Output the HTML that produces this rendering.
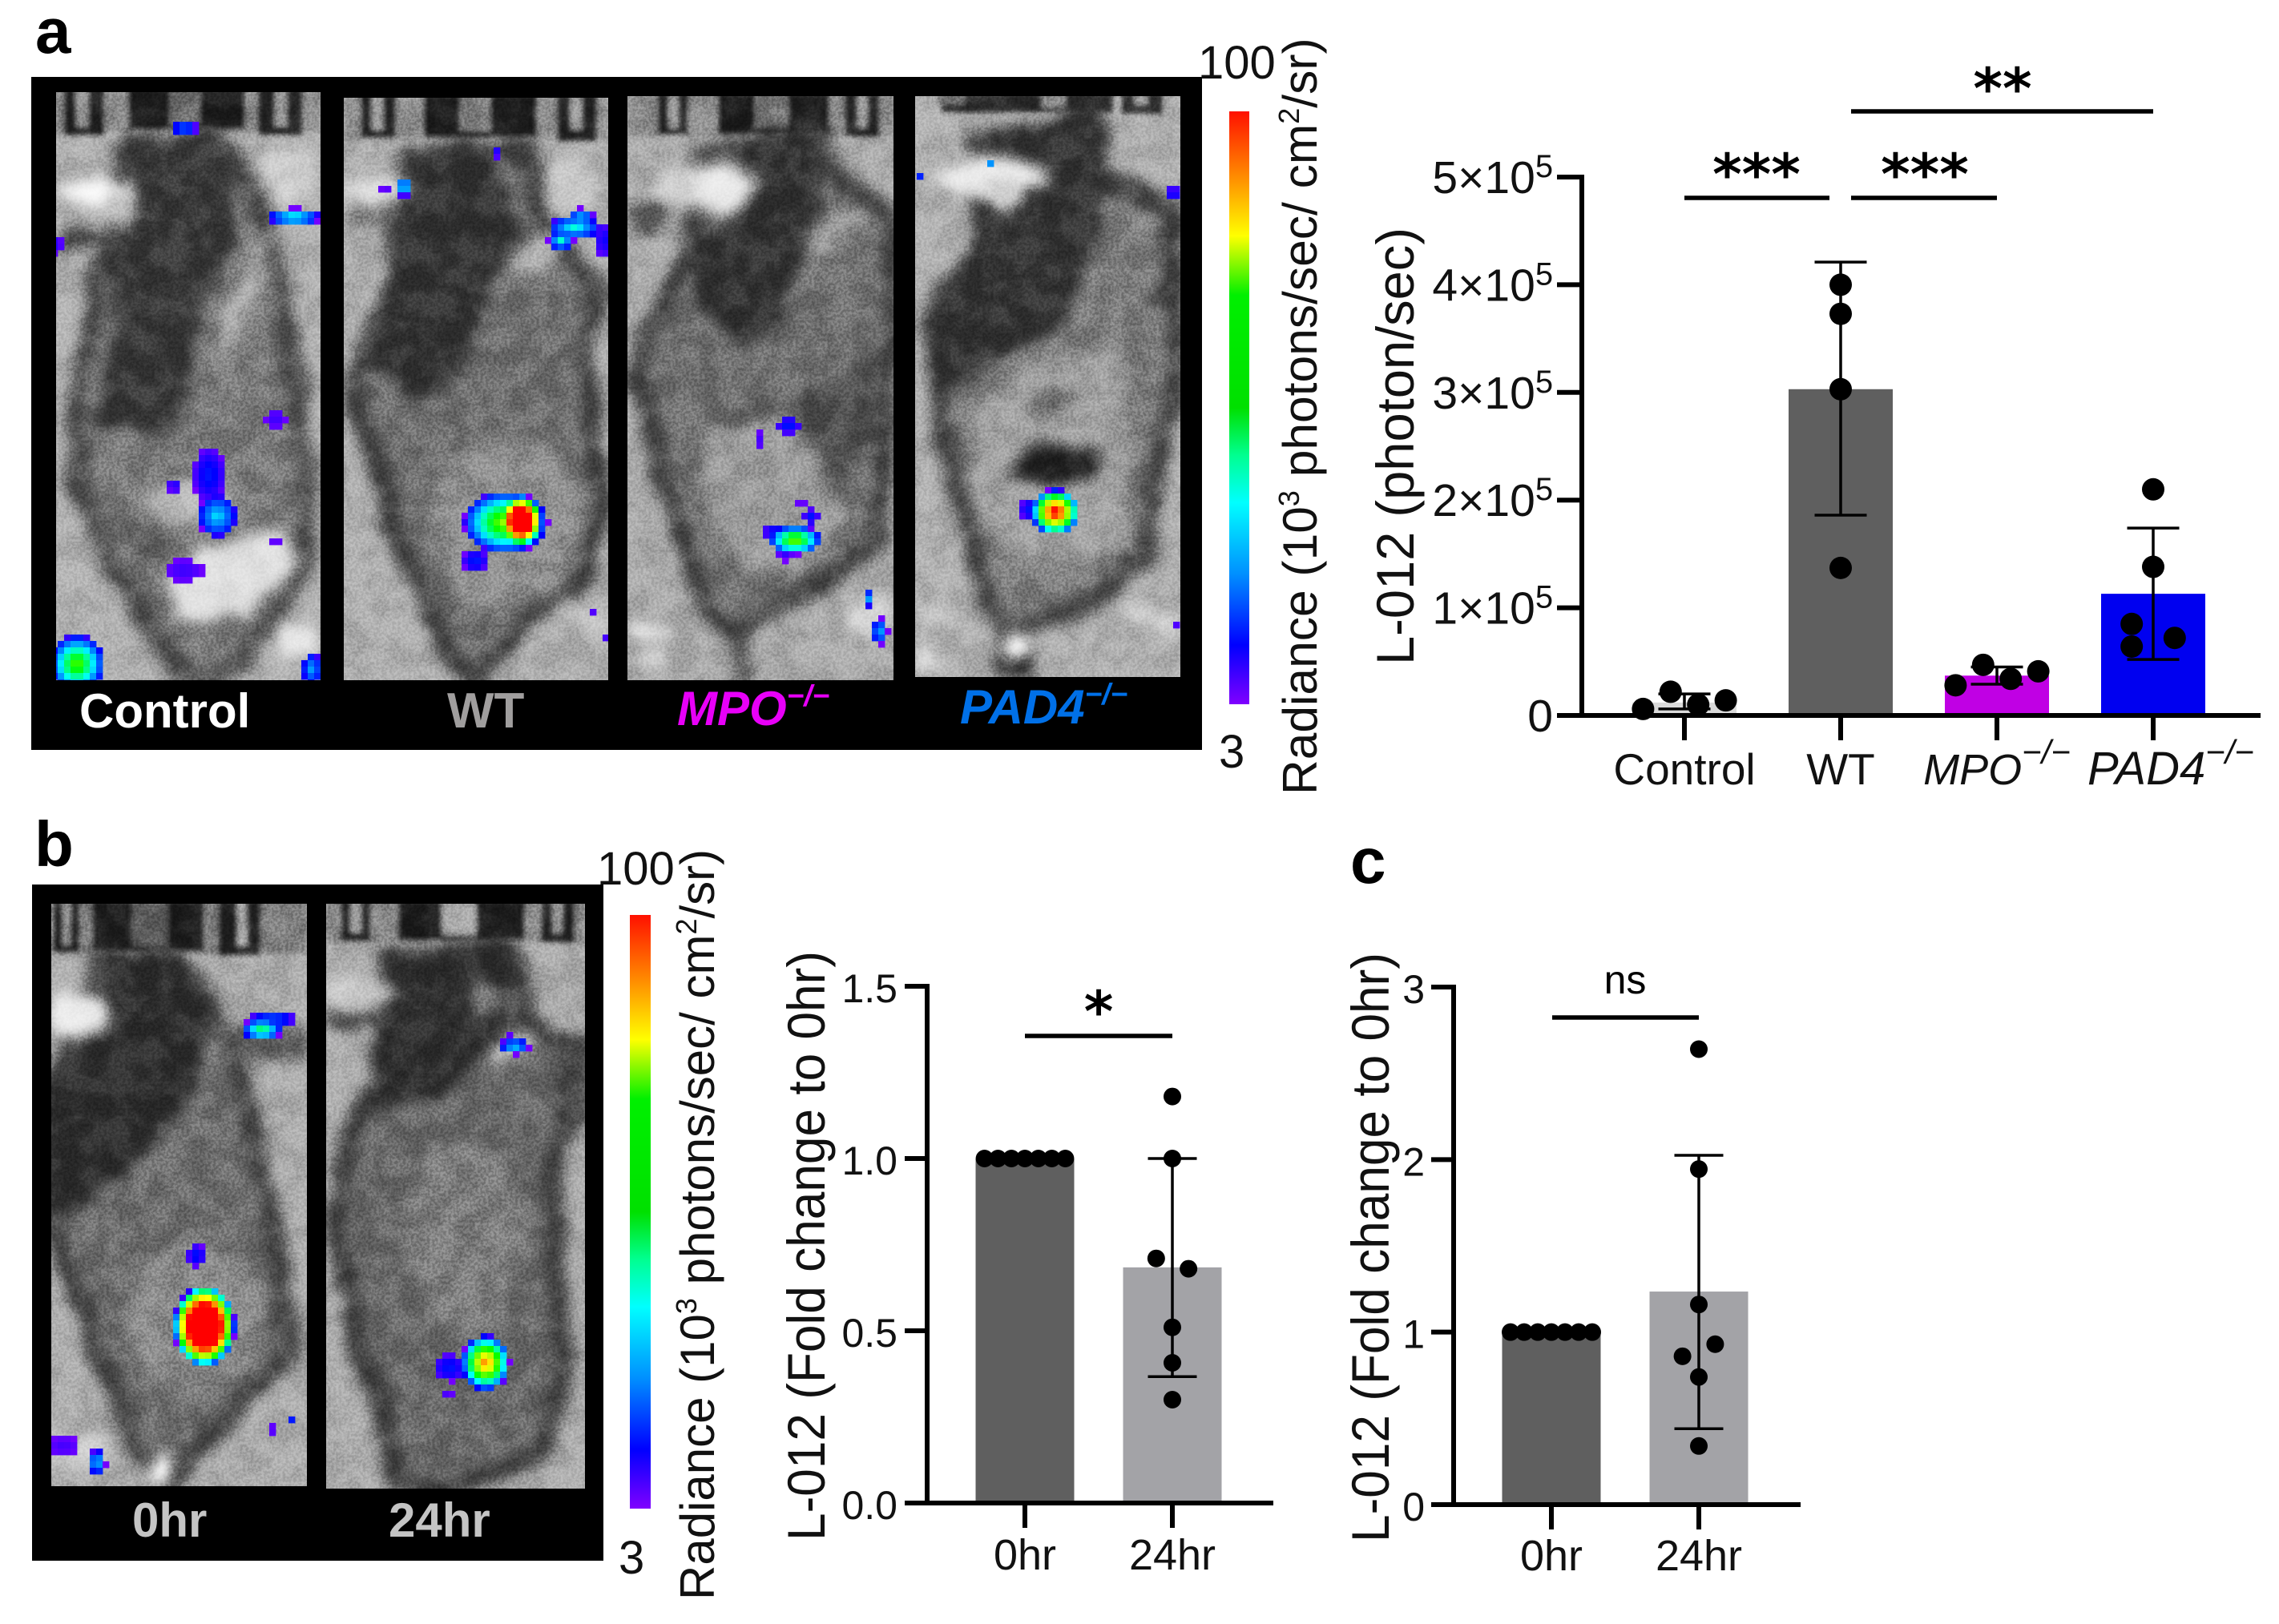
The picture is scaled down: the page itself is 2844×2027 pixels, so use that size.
<!DOCTYPE html>
<html lang="en">
<head>
<meta charset="utf-8">
<title>L-012 imaging figure</title>
<style>
html,body{margin:0;padding:0;background:#fff;}
body{width:2844px;height:2022px;overflow:hidden;}
svg text{font-family:"Liberation Sans",Arial,sans-serif;}
.mottle{mix-blend-mode:soft-light;opacity:.2;}
.grain{mix-blend-mode:overlay;opacity:.14;}
</style>
</head>
<body>
<svg id="fig" xmlns="http://www.w3.org/2000/svg" width="2844" height="2022" viewBox="0 0 2844 2022">
<defs>
<filter id="b3" x="-20%" y="-20%" width="140%" height="140%"><feGaussianBlur stdDeviation="3"/></filter>
<filter id="b6" x="-20%" y="-20%" width="140%" height="140%" color-interpolation-filters="sRGB"><feTurbulence type="fractalNoise" baseFrequency="0.022" numOctaves="3" seed="7" result="t"/><feDisplacementMap in="SourceGraphic" in2="t" scale="24" xChannelSelector="R" yChannelSelector="G"/><feGaussianBlur stdDeviation="8"/></filter>
<filter id="noise" x="0" y="0" width="100%" height="100%" color-interpolation-filters="sRGB"><feTurbulence type="fractalNoise" baseFrequency="0.3" numOctaves="2" seed="4"/><feColorMatrix values="3.4 0 0 0 -1.2  3.4 0 0 0 -1.2  3.4 0 0 0 -1.2  0 0 0 0 1"/></filter>
<filter id="mottle" x="0" y="0" width="100%" height="100%" color-interpolation-filters="sRGB"><feTurbulence type="fractalNoise" baseFrequency="0.03" numOctaves="3" seed="11"/><feColorMatrix values="3.4 0 0 0 -1.2  3.4 0 0 0 -1.2  3.4 0 0 0 -1.2  0 0 0 0 1"/></filter>
<linearGradient id="jet" x1="0" y1="0" x2="0" y2="1">
<stop offset="0" stop-color="#ff1000"/><stop offset=".1" stop-color="#ff8000"/><stop offset=".21" stop-color="#ffff00"/><stop offset=".31" stop-color="#00f000"/><stop offset=".5" stop-color="#00e000"/><stop offset=".58" stop-color="#00ff90"/><stop offset=".66" stop-color="#00ffff"/><stop offset=".78" stop-color="#0090ff"/><stop offset=".9" stop-color="#0000ff"/><stop offset="1" stop-color="#8000ff"/>
</linearGradient>
</defs>

<text x="44" y="66" font-size="80" font-weight="700">a</text>
<text x="43" y="1081" font-size="80" font-weight="700">b</text>
<text x="1685" y="1102" font-size="80" font-weight="700">c</text>

<rect x="39" y="96" width="1461" height="840" fill="#000"/>
<rect x="40" y="1104" width="713" height="844" fill="#000"/>

<!-- Panel a : Control -->
<svg x="70" y="115" width="330" height="734" viewBox="70 115 330 734">
<rect x="70" y="115" width="330" height="734" fill="#b0b0b0"/>
<g filter="url(#b3)">
<rect x="70" y="115" width="330" height="50" fill="#8a8a8a"/><rect x="160" y="110" width="146" height="52" fill="#1c1c1c"/><rect x="212" y="110" width="38" height="45" fill="#6e6e6e"/>
<rect x="80" y="110" width="50" height="58" fill="#222"/><rect x="95" y="110" width="15" height="48" fill="#999"/>
<rect x="322" y="110" width="56" height="58" fill="#222"/><rect x="343" y="110" width="15" height="48" fill="#999"/>
</g>
<g filter="url(#b6)">
<ellipse cx="357" cy="222" rx="42" ry="36" fill="#d0d0d0"/>
<path d="M166 175L268 172L319 242L344 319L383 574L383 714L300 823L255 860L198 803L147 720L96 606L96 510L121 350L159 255Z" fill="#7a7a7a" stroke="#4b4b4b" stroke-width="24" stroke-linejoin="round"/>
<path d="M147 191L268 178L287 287L242 414L217 529L128 529L153 383L134 332Z" fill="#383838" stroke="#383838" stroke-width="14" stroke-linejoin="round"/>
<path d="M179 620L255 587L300 650L217 655Z" fill="#bcbcbc"/>
<path d="M217 730L255 690L345 663L363 700L306 765L225 770Z" fill="#e0e0e0" stroke="#e0e0e0" stroke-width="10" stroke-linejoin="round"/>
<path d="M150 650L220 660L190 720Z" fill="#606060"/>
<path d="M300 330L350 280L320 370L270 460L280 380Z" fill="#aeaeae"/>
<ellipse cx="125" cy="240" rx="50" ry="16" fill="#fafafa"/><ellipse cx="150" cy="262" rx="22" ry="28" fill="#c4c4c4"/>
<ellipse cx="100" cy="300" rx="30" ry="14" fill="#444"/>
<rect x="350" y="780" width="50" height="40" fill="#e8e8e8"/>
</g>
<rect class="mottle" x="70" y="115" width="330" height="734" filter="url(#mottle)"/>
<rect class="grain" x="70" y="115" width="330" height="734" filter="url(#noise)"/>
<g class="heat" data-spots="230,160,16,10,.22;367,271,32,11,.42;261,593,20,34,.12;271,644,24,26,.36;96,829,34,36,.62;389,835,12,20,.3;344,523,13,12,.05;230,712,24,14,.05;344,676,6,6,.03;217,606,8,9,.08;71,305,6,14,.1"></g>
</svg>

<!-- Panel a : WT -->
<svg x="429" y="122" width="330" height="727" viewBox="429 122 330 727">
<rect x="429" y="122" width="330" height="727" fill="#aeaeae"/>
<g filter="url(#b3)">
<rect x="429" y="122" width="330" height="52" fill="#8e8e8e"/><rect x="529" y="118" width="141" height="54" fill="#1a1a1a"/><rect x="574" y="118" width="38" height="46" fill="#808080"/>
<rect x="450" y="118" width="44" height="54" fill="#222"/><rect x="464" y="118" width="14" height="44" fill="#a0a0a0"/>
<rect x="695" y="118" width="50" height="58" fill="#222"/><rect x="712" y="118" width="14" height="44" fill="#a0a0a0"/>
</g>
<g filter="url(#b6)">
<ellipse cx="712" cy="230" rx="40" ry="30" fill="#c8c8c8"/>
<path d="M510 191L657 185L676 281L746 357L727 446L753 638L721 733L651 778L593 860L561 823L497 670L446 510L446 459L491 344L497 255Z" fill="#6f6f6f" stroke="#404040" stroke-width="24" stroke-linejoin="round"/>
<path d="M529 191L612 191L638 287L606 357L555 485L510 491L472 446L485 357L510 287Z" fill="#333" stroke="#333" stroke-width="14" stroke-linejoin="round"/>
<ellipse cx="630" cy="650" rx="95" ry="110" fill="#8e8e8e"/>
<ellipse cx="670" cy="320" rx="35" ry="18" fill="#b6b6b6" transform="rotate(-25 670 320)"/>
<ellipse cx="470" cy="236" rx="44" ry="14" fill="#e0e0e0"/><ellipse cx="470" cy="272" rx="40" ry="10" fill="#525252"/>
<path d="M690 760L759 800L759 780L710 740Z" fill="#cacaca"/>
</g>
<rect class="mottle" x="429" y="122" width="330" height="727" filter="url(#mottle)"/>
<rect class="grain" x="429" y="122" width="330" height="727" filter="url(#noise)"/>
<g class="heat" data-spots="631,652,52,38,.68;650,650,27,32,1.5;593,700,16,14,.13;717,284,32,14,.4;700,300,16,12,.4;725,272,16,12,.35;504,233,12,12,.4;481,235,6,6,.03;753,300,9,22,.1;619,191,6,6,.1;740,765,6,6,.03;756,798,5,5,.05"></g>
</svg>

<!-- Panel a : MPO -->
<svg x="783" y="120" width="332" height="729" viewBox="783 120 332 729">
<rect x="783" y="120" width="332" height="729" fill="#aaaaaa"/>
<g filter="url(#b3)">
<rect x="783" y="120" width="332" height="50" fill="#8e8e8e"/><rect x="896" y="116" width="139" height="52" fill="#1c1c1c"/><rect x="942" y="116" width="42" height="44" fill="#777"/>
<rect x="821" y="116" width="38" height="52" fill="#252525"/><rect x="834" y="116" width="12" height="44" fill="#9a9a9a"/>
<rect x="1054" y="116" width="44" height="54" fill="#252525"/><rect x="1070" y="116" width="12" height="44" fill="#9a9a9a"/>
</g>
<g filter="url(#b6)">
<path d="M877 190L1026 169L1031 206L1114 275L1112 444L1096 672L1040 719L979 751L910 790L882 762L821 576L798 470L812 407L863 312Z" fill="#707070" stroke="#424242" stroke-width="24" stroke-linejoin="round"/>
<path d="M928 174L1021 169L1012 259L979 365L970 407L924 428L877 375L863 322L924 259Z" fill="#323232" stroke="#323232" stroke-width="14" stroke-linejoin="round"/>
<path d="M877 539L979 518L1059 651L1003 719L924 709L872 608Z" fill="#9c9c9c"/>
<path d="M880 525L1000 490L1105 440L1100 540L1050 600L980 510Z" fill="#4e4e4e"/>
<path d="M1090 260L1000 350L1020 290L1060 250Z" fill="#a0a0a0"/>
<ellipse cx="880" cy="232" rx="66" ry="26" fill="#d6d6d6" transform="rotate(-8 880 232)"/>
<ellipse cx="900" cy="240" rx="34" ry="30" fill="#ececec"/>
<ellipse cx="810" cy="270" rx="26" ry="18" fill="#444"/>
<rect x="790" y="785" width="52" height="14" fill="#ececec"/><rect x="795" y="815" width="36" height="12" fill="#e2e2e2"/>
<path d="M1045 755L1110 745L1112 790L1060 785Z" fill="#d6d6d6"/>
<rect x="912" y="800" width="26" height="49" fill="#555"/>
</g>
<rect class="mottle" x="783" y="120" width="332" height="729" filter="url(#mottle)"/>
<rect class="grain" x="783" y="120" width="332" height="729" filter="url(#noise)"/>
<g class="heat" data-spots="992,674,32,18,.66;970,664,20,10,.12;1012,645,10,10,.12;984,531,15,11,.13;947,550,6,12,.04;1000,628,5,5,.03;1084,747,7,10,.3;1098,788,10,16,.32;980,692,10,8,.05"></g>
</svg>

<!-- Panel a : PAD4 -->
<svg x="1142" y="120" width="331" height="725" viewBox="1142 120 331 725">
<rect x="1142" y="120" width="331" height="725" fill="#b0b0b0"/>
<g filter="url(#b3)">
<rect x="1175" y="116" width="214" height="24" fill="#2a2a2a"/><rect x="1300" y="116" width="30" height="18" fill="#8a8a8a"/>
<rect x="1400" y="116" width="50" height="26" fill="#333"/><rect x="1416" y="116" width="16" height="14" fill="#aaa"/>
<rect x="1170" y="116" width="34" height="14" fill="#666"/>
</g>
<g filter="url(#b6)">
<path d="M1212 179L1366 142L1375 222L1464 259L1468 460L1422 698L1366 751L1282 783L1250 790L1203 656L1166 481L1166 396L1235 280Z" fill="#7c7c7c" stroke="#444" stroke-width="24" stroke-linejoin="round"/>
<path d="M1236 169L1366 142L1375 243L1347 338L1329 396L1212 460L1166 481L1161 412L1212 328L1254 264Z" fill="#333" stroke="#333" stroke-width="14" stroke-linejoin="round"/>
<path d="M1226 497L1282 460L1400 430L1410 690L1260 700L1205 610Z" fill="#a2a2a2"/>
<ellipse cx="1315" cy="582" rx="56" ry="26" fill="#1e1e1e"/>
<path d="M1310 480L1350 500L1300 530L1270 510Z" fill="#666"/>
<path d="M1450 300L1473 280L1473 380L1440 380Z" fill="#363636"/>
<path d="M1420 270L1460 240L1400 290Z" fill="#e2e2e2"/>
<ellipse cx="1240" cy="220" rx="70" ry="22" fill="#ececec"/><ellipse cx="1252" cy="240" rx="26" ry="20" fill="#d6d6d6"/>
<circle cx="1228" cy="268" r="20" fill="#2a2a2a"/>
<rect x="1245" y="806" width="44" height="40" fill="#2c2c2c"/>
<circle cx="1268" cy="806" r="18" fill="#fff"/>
<path d="M1142 810L1180 835L1150 845L1142 845Z" fill="#eaeaea"/>
<path d="M1145 760L1190 775L1145 785Z" fill="#dedede"/>
<path d="M1390 745L1460 770L1470 790L1385 760Z" fill="#d6d6d6"/>
</g>
<rect class="mottle" x="1142" y="120" width="331" height="725" filter="url(#mottle)"/>
<rect class="grain" x="1142" y="120" width="331" height="725" filter="url(#noise)"/>
<g class="heat" data-spots="1317,639,30,28,1.05;1286,636,14,14,.12;1464,242,6,12,.14;1238,203,5,5,.4;1145,221,4,4,.35;1471,782,4,4,.12"></g>
</svg>

<!-- Panel a labels -->
<text x="99" y="908" font-size="60" font-weight="700" fill="#fff">Control</text>
<text x="558" y="908" font-size="62" font-weight="700" fill="#a09e9e">WT</text>
<text x="845" y="905" font-size="60" font-weight="700" font-style="italic" fill="#e800f8">MPO<tspan font-size="37" dy="-24">−/−</tspan></text>
<text x="1198" y="903" font-size="60" font-weight="700" font-style="italic" fill="#0070e8">PAD4<tspan font-size="37" dy="-24">−/−</tspan></text>

<!-- Panel a colour scale -->
<rect x="1534" y="139" width="25" height="740" fill="url(#jet)"/>
<text x="1495" y="98" font-size="58" fill="#111">100</text>
<text x="1521" y="958" font-size="58" fill="#111">3</text>
<text transform="translate(1643 992) rotate(-90)" font-size="60.5" fill="#111">Radiance (10<tspan font-size="36" dy="-22">3</tspan><tspan dy="22"> photons/sec/ cm</tspan><tspan font-size="36" dy="-22">2</tspan><tspan dy="22">/sr)</tspan></text>

<!-- Panel b images -->
<svg x="64" y="1128" width="319" height="727" viewBox="64 1128 319 727">
<rect x="64" y="1128" width="319" height="727" fill="#acacac"/>
<g filter="url(#b3)">
<rect x="64" y="1124" width="319" height="66" fill="#7d7d7d"/><rect x="115" y="1124" width="140" height="64" fill="#1a1a1a"/><rect x="165" y="1124" width="45" height="58" fill="#5e5e5e"/>
<rect x="67" y="1124" width="32" height="64" fill="#222"/><rect x="78" y="1124" width="10" height="56" fill="#999"/>
<rect x="273" y="1124" width="52" height="68" fill="#222"/><rect x="296" y="1124" width="12" height="56" fill="#aaa"/>
</g>
<g filter="url(#b6)">
<path d="M127 1196L224 1196L291 1306L339 1522L364 1684L303 1750L212 1850L170 1808L73 1554L40 1521L40 1400Z" fill="#6e6e6e" stroke="#424242" stroke-width="24" stroke-linejoin="round"/>
<path d="M145 1196L218 1196L255 1274L242 1352L152 1456L91 1508L40 1502L40 1365L109 1326Z" fill="#2e2e2e" stroke="#2e2e2e" stroke-width="14" stroke-linejoin="round"/>
<ellipse cx="245" cy="1645" rx="85" ry="90" fill="#8a8a8a"/>
<path d="M300 1260L280 1300L260 1340L290 1290Z" fill="#d6d6d6"/>
<path d="M290 1270L383 1290L383 1320L300 1320Z" fill="#585858"/>
<ellipse cx="95" cy="1268" rx="40" ry="26" fill="#ececec"/>
<ellipse cx="200" cy="1835" rx="14" ry="18" fill="#fff"/>
<path d="M40 1790L130 1790L130 1835L40 1830Z" fill="#cecece"/>
</g>
<rect class="mottle" x="64" y="1128" width="319" height="727" filter="url(#mottle)"/>
<rect class="grain" x="64" y="1128" width="319" height="727" filter="url(#noise)"/>
<g class="heat" data-spots="255,1655,38,50,1.6;245,1567,12,14,.12;327,1285,24,14,.5;340,1272,28,11,.2;79,1805,20,12,.04;121,1825,11,15,.35;339,1785,6,8,.03;364,1772,5,5,.12"></g>
</svg>
<svg x="407" y="1128" width="323" height="730" viewBox="407 1128 323 730">
<rect x="407" y="1128" width="323" height="730" fill="#acacac"/>
<g filter="url(#b3)">
<rect x="407" y="1124" width="323" height="52" fill="#8a8a8a"/><rect x="497" y="1124" width="158" height="50" fill="#1a1a1a"/><rect x="552" y="1124" width="42" height="44" fill="#a8a8a8"/>
<rect x="425" y="1124" width="38" height="50" fill="#222"/><rect x="438" y="1124" width="12" height="40" fill="#999"/>
<rect x="675" y="1124" width="42" height="52" fill="#222"/><rect x="690" y="1124" width="12" height="40" fill="#999"/>
</g>
<g filter="url(#b6)">
<path d="M485 1196L642 1183L661 1274L727 1326L721 1391L685 1430L709 1717L667 1821L545 1865L497 1847L442 1652L418 1521L436 1417L473 1352Z" fill="#696969" stroke="#3c3c3c" stroke-width="24" stroke-linejoin="round"/>
<path d="M485 1196L630 1183L624 1287L545 1365L473 1378L479 1280Z" fill="#2e2e2e" stroke="#2e2e2e" stroke-width="14" stroke-linejoin="round"/>
<ellipse cx="580" cy="1540" rx="75" ry="120" fill="#7c7c7c"/>
<ellipse cx="600" cy="1245" rx="18" ry="20" fill="#8e8e8e"/>
<path d="M610 1310L670 1285L680 1295L620 1325Z" fill="#d6d6d6"/>
<ellipse cx="445" cy="1240" rx="46" ry="16" fill="#cecece"/><ellipse cx="440" cy="1272" rx="34" ry="10" fill="#444"/>
<path d="M690 1280L740 1290L740 1400L695 1400Z" fill="#444"/>
</g>
<rect class="mottle" x="407" y="1128" width="323" height="730" filter="url(#mottle)"/>
<rect class="grain" x="407" y="1128" width="323" height="730" filter="url(#noise)"/>
<g class="heat" data-spots="606,1701,30,34,.88;561,1707,20,17,.12;642,1306,18,10,.35;559,1741,6,6,.05;638,1293,4,4,.03"></g>
</svg>
<text x="165" y="1918" font-size="60" font-weight="700" fill="#c4c4c4">0hr</text>
<text x="485" y="1918" font-size="60" font-weight="700" fill="#c4c4c4">24hr</text>

<!-- Panel b colour scale -->
<rect x="786" y="1142" width="26" height="741" fill="url(#jet)"/>
<text x="745" y="1104" font-size="58" fill="#111">100</text>
<text x="772" y="1964" font-size="58" fill="#111">3</text>
<text transform="translate(891 1997) rotate(-90)" font-size="60" fill="#111">Radiance (10<tspan font-size="36" dy="-22">3</tspan><tspan dy="22"> photons/sec/ cm</tspan><tspan font-size="36" dy="-22">2</tspan><tspan dy="22">/sr)</tspan></text>

<g id="chart-a"></g>
<g id="chart-b"></g>
<g id="chart-c"></g>
</svg>

<script>
// ---- Chart a data ----
const aCategories = ['Control', 'WT', 'MPO', 'PAD4'];
const aMeans = [12000, 303000, 37000, 113000];
const aErrorHigh = [20000, 421000, 45000, 174000];
const aErrorLow = [6000, 186000, 29000, 52000];
const aControlPoints = [6000, 22000, 10000, 14000];
const aWtPoints = [400000, 373000, 303000, 137000];
const aMpoPoints = [28000, 47000, 34000, 41000];
const aPad4Points = [210000, 138000, 85000, 64000, 72000];
const aControlSlots = [-1.5, -0.5, 0.5, 1.5];
const aWtSlots = [0, 0, 0, 0];
const aMpoSlots = [-1.5, -0.5, 0.5, 1.5];
const aPad4Slots = [0, 0, -0.78, -0.78, 0.78];
const aTickValues = [0, 100000, 200000, 300000, 400000, 500000];
const aTickLabels = ['0', '1×10^5', '2×10^5', '3×10^5', '4×10^5', '5×10^5'];

// ---- Chart b data ----
const bCategories = ['0hr', '24hr'];
const bMeans = [1.0, 0.684];
const bErrorHigh = [null, 1.0];
const bErrorLow = [null, 0.367];
const bZeroHourPoints = [1, 1, 1, 1, 1, 1, 1];
const bDayPoints = [1.18, 1.0, 0.71, 0.68, 0.51, 0.407, 0.30];
const bZeroHourSlots = [-3, -2, -1, 0, 1, 2, 3];
const bDaySlots = [0, 0, -1.2, 1.2, 0, 0, 0];
const bTickValues = [0, 0.5, 1.0, 1.5];
const bTickLabels = ['0.0', '0.5', '1.0', '1.5'];

// ---- Chart c data ----
const cCategories = ['0hr', '24hr'];
const cMeans = [1.0, 1.235];
const cErrorHigh = [null, 2.025];
const cErrorLow = [null, 0.44];
const cZeroHourPoints = [1, 1, 1, 1, 1, 1, 1];
const cDayPoints = [2.64, 1.945, 1.16, 0.93, 0.86, 0.74, 0.34];
const cZeroHourSlots = [-3, -2, -1, 0, 1, 2, 3];
const cDaySlots = [0, 0, 0, 1.2, -1.2, 0, 0];
const cTickValues = [0, 1, 2, 3];
const cTickLabels = ['0', '1', '2', '3'];

const NS = 'http://www.w3.org/2000/svg';
function mk(tag, attrs, parent) {
  const el = document.createElementNS(NS, tag);
  for (const k in attrs) el.setAttribute(k, attrs[k]);
  parent.appendChild(el);
  return el;
}
function slug(s) { return String(s).toLowerCase().replace(/[^a-z0-9]+/g, '-'); }

function drawChart(o) {
  const root = document.getElementById(o.id);
  const yScale = v => o.y0 - (v / o.yMax) * (o.y0 - o.yTop);
  const xScale = i => o.xStart + i * o.xStep;

  // bars
  o.categories.forEach((c, i) => {
    const r = mk('rect', { x: xScale(i) - o.barW / 2, y: yScale(o.means[i]), width: o.barW, height: o.y0 - yScale(o.means[i]), fill: o.barColors[i] }, root);
    
    
  });

  // error bars
  o.categories.forEach((c, i) => {
    if (o.errHigh[i] === null) return;
    const g = mk('path', {
      d: 'M' + xScale(i) + ' ' + yScale(o.errHigh[i]) + 'V' + yScale(o.errLow[i]) +
         'M' + (xScale(i) - o.capW / 2) + ' ' + yScale(o.errHigh[i]) + 'h' + o.capW +
         'M' + (xScale(i) - o.capW / 2) + ' ' + yScale(o.errLow[i]) + 'h' + o.capW,
      stroke: '#000', 'stroke-width': 3.5, fill: 'none' }, root);
    
    
  });

  // points
  o.categories.forEach((c, i) => {
    o.points[i].forEach((v, j) => {
      const p = mk('circle', { cx: xScale(i) + o.slots[i][j] * o.slotStep, cy: yScale(v), r: o.dotR, fill: '#000' }, root);
      
      
    });
  });

  // axes
  const yAxis = mk('line', { x1: o.axisX, x2: o.axisX, y1: o.yTop - 3, y2: o.y0 + 3, stroke: '#000', 'stroke-width': 6 }, root);
  
  
  const xAxis = mk('line', { x1: o.axisX - o.tickLen, x2: o.xEnd, y1: o.y0, y2: o.y0, stroke: '#000', 'stroke-width': 6 }, root);
  
  

  // y ticks and labels
  o.tickValues.forEach((v, i) => {
    const t = mk('line', { x1: o.axisX - o.tickLen, x2: o.axisX, y1: yScale(v), y2: yScale(v), stroke: '#000', 'stroke-width': 6 }, root);
    
    
    const parts = o.tickLabels[i].split('^');
    const lab = mk('text', { x: o.labelRight, y: yScale(v) + 20, 'text-anchor': 'end', 'font-size': o.tickFont, fill: '#111' }, root);
    
    
    lab.textContent = parts[0];
    if (parts[1]) {
      const s = mk('tspan', { 'font-size': o.tickFont * 0.7, dy: -20 }, lab);
      s.textContent = parts[1];
    }
  });

  // x ticks and labels
  o.categories.forEach((c, i) => {
    const t = mk('line', { x1: xScale(i), x2: xScale(i), y1: o.y0, y2: o.y0 + 31, stroke: '#000', 'stroke-width': 6 }, root);
    
    
    const dx = o.xLabelDx ? o.xLabelDx[i] : 0;
    const fs = o.xLabelFont ? o.xLabelFont[i] : 54;
    const lab = mk('text', { x: xScale(i) + dx, y: o.xLabelY, 'text-anchor': 'middle', 'font-size': fs, fill: '#111' }, root);
    
    
    lab.textContent = c;
    if (o.italicFrom !== undefined && i >= o.italicFrom) {
      lab.setAttribute('font-style', 'italic');
      const s = mk('tspan', { 'font-size': 42, dy: -26 }, lab);
      s.textContent = '−/−';
    }
  });

  // y title
  const title = mk('text', { transform: 'translate(' + o.titleX + ' ' + o.titleY + ') rotate(-90)', 'font-size': o.titleFont, textLength: o.titleLen, lengthAdjust: 'spacingAndGlyphs', fill: '#111' }, root);
  
  
  title.textContent = o.title;

  // significance brackets
  o.sig.forEach(s => {
    const l = mk('line', { x1: s[0], x2: s[1], y1: s[2], y2: s[2], stroke: '#000', 'stroke-width': 5.5 }, root);
    
    
    const t = mk('text', { x: s[3], y: s[4], 'text-anchor': 'middle', 'font-size': s[6] || 74, fill: '#000' }, root);
    
    
    t.setAttribute('style', s[5] === 'ns' ? '' : 'font-family:"DejaVu Sans",sans-serif;font-weight:700;');
    t.textContent = s[5];
  });
}

drawChart({
  id: 'chart-a', categories: aCategories, means: aMeans, errHigh: aErrorHigh, errLow: aErrorLow,
  points: [aControlPoints, aWtPoints, aMpoPoints, aPad4Points], slots: [aControlSlots, aWtSlots, aMpoSlots, aPad4Slots],
  tickValues: aTickValues, tickLabels: aTickLabels,
  barColors: ['#dadada', '#5f5f5f', '#c000e4', '#0000f0'],
  y0: 893, yTop: 221, yMax: 500000, xStart: 2102, xStep: 195, barW: 130, capW: 65, dotR: 14, slotStep: 34.4,
  axisX: 1974, xEnd: 2821, tickLen: 31, labelRight: 1938, tickFont: 57, xLabelY: 979, italicFrom: 2,
  xLabelDx: [0, 0, 0, 22], xLabelFont: [55, 55, 54, 58],
  title: 'L-012 (photon/sec)', titleX: 1764, titleY: 830, titleLen: 546, titleFont: 66,
  sig: [[2102, 2283, 247, 2192, 242, '***', 70], [2310, 2492, 247, 2402, 242, '***', 70], [2310, 2687, 139, 2499, 135, '**', 70]]
});
drawChart({
  id: 'chart-b', categories: bCategories, means: bMeans, errHigh: bErrorHigh, errLow: bErrorLow,
  points: [bZeroHourPoints, bDayPoints], slots: [bZeroHourSlots, bDaySlots],
  tickValues: bTickValues, tickLabels: bTickLabels,
  barColors: ['#5f5f5f', '#a3a3a7'],
  y0: 1876, yTop: 1231, yMax: 1.5, xStart: 1279, xStep: 184, barW: 123, capW: 61, dotR: 11, slotStep: 16.8,
  axisX: 1157, xEnd: 1589, tickLen: 28, labelRight: 1120, tickFont: 50, xLabelY: 1959,
  title: 'L-012 (Fold change to 0hr)', titleX: 1029, titleY: 1923, titleLen: 736, titleFont: 66,
  sig: [[1279, 1463, 1293, 1371, 1287, '*', 70]]
});
drawChart({
  id: 'chart-c', categories: cCategories, means: cMeans, errHigh: cErrorHigh, errLow: cErrorLow,
  points: [cZeroHourPoints, cDayPoints], slots: [cZeroHourSlots, cDaySlots],
  tickValues: cTickValues, tickLabels: cTickLabels,
  barColors: ['#5f5f5f', '#a3a3a7'],
  y0: 1878, yTop: 1232, yMax: 3, xStart: 1936, xStep: 184, barW: 123, capW: 61, dotR: 11, slotStep: 17,
  axisX: 1814, xEnd: 2247, tickLen: 28, labelRight: 1778, tickFont: 50, xLabelY: 1960,
  title: 'L-012 (Fold change to 0hr)', titleX: 1733, titleY: 1925, titleLen: 736, titleFont: 66,
  sig: [[1937, 2120, 1270, 2028, 1240, 'ns', 50]]
});

// ---- Bioluminescence overlays: blocky pixel blobs ----
const jetStops = [[0, [128, 0, 255]], [0.1, [0, 0, 255]], [0.28, [0, 140, 255]], [0.38, [0, 255, 255]], [0.55, [0, 255, 0]], [0.75, [255, 255, 0]], [0.88, [255, 128, 0]], [1, [255, 0, 0]]];
function jetColor(t) {
  t = Math.max(0, Math.min(1, t));
  for (let i = 1; i < jetStops.length; i++) {
    if (t <= jetStops[i][0]) {
      const a = jetStops[i - 1], b = jetStops[i], f = (t - a[0]) / (b[0] - a[0]);
      const c = a[1].map((v, k) => Math.round(v + (b[1][k] - v) * f));
      return 'rgb(' + c.join(',') + ')';
    }
  }
  return 'rgb(255,0,0)';
}
document.querySelectorAll('.heat').forEach(g => {
  
  
  const cells = new Map();
  const size = 8;
  g.getAttribute('data-spots').split(';').forEach(spec => {
    const [cx, cy, rx, ry, peak] = spec.split(',').map(Number);
    for (let x = Math.floor((cx - rx) / size); x * size <= cx + rx; x++) {
      for (let y = Math.floor((cy - ry) / size); y * size <= cy + ry; y++) {
        const dx = (x * size + size / 2 - cx) / rx, dy = (y * size + size / 2 - cy) / ry;
        const d = Math.sqrt(dx * dx + dy * dy);
        if (d > 1.02) continue;
        const level = peak * Math.pow(Math.max(0, 1 - d), 0.62) + 0.01;
        const key = x + ',' + y;
        if (!cells.has(key) || cells.get(key) < level) cells.set(key, level);
      }
    }
  });
  cells.forEach((level, key) => {
    const [x, y] = key.split(',').map(Number);
    mk('rect', { x: x * size, y: y * size, width: size + 0.4, height: size + 0.4, fill: jetColor(level) }, g);
  });
  g.removeAttribute('data-spots');
});
</script>
</body>
</html>
